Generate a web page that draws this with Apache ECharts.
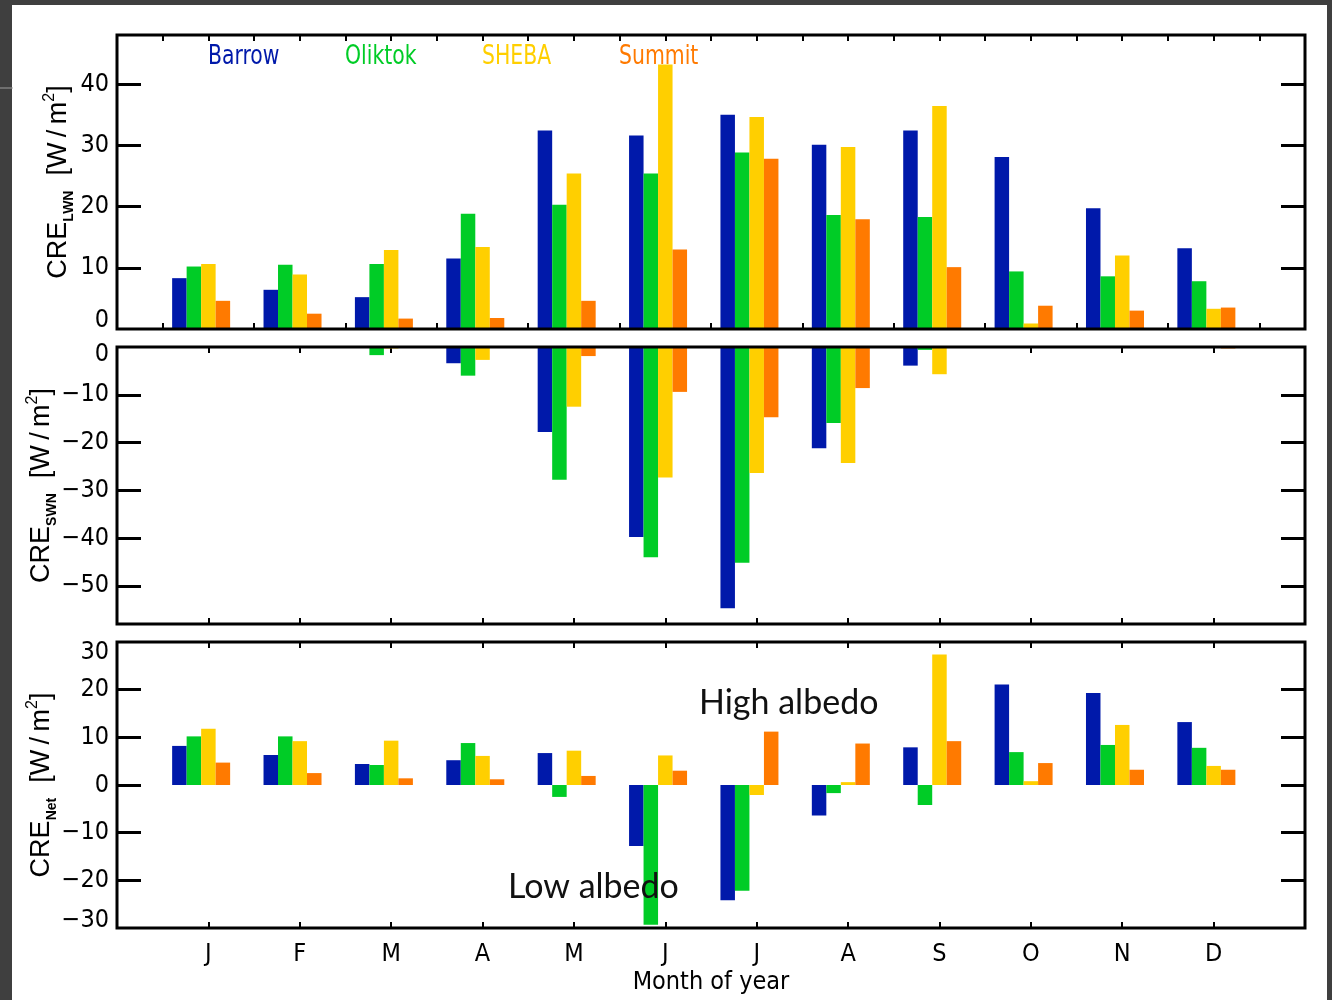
<!DOCTYPE html>
<html>
<head>
<meta charset="utf-8">
<script src="https://cdn.jsdelivr.net/npm/echarts@6/dist/echarts.min.js"></script>
<style>
html, body { margin: 0; padding: 0; background: #3f3f3f; }
#chart { width: 1332px; height: 1000px; }
</style>
</head>
<body>
<div id="chart"></div>
<script>
// Month labels and station names
const months = ['J', 'F', 'M', 'A', 'M', 'J', 'J', 'A', 'S', 'O', 'N', 'D'];
const stations = ['Barrow', 'Oliktok', 'SHEBA', 'Summit'];

// Longwave cloud radiative effect (W/m2)
const barrowLWN  = [8.3, 6.4, 5.2, 11.5, 32.4, 31.6, 35.0, 30.1, 32.4, 28.1, 19.7, 13.2];
const oliktokLWN = [10.2, 10.5, 10.6, 18.8, 20.3, 25.4, 28.8, 18.6, 18.3, 9.4, 8.6, 7.8];
const shebaLWN   = [10.6, 8.9, 12.9, 13.4, 25.4, 43.2, 34.6, 29.7, 36.4, 0.9, 12.0, 3.3];
const summitLWN  = [4.6, 2.5, 1.7, 1.8, 4.6, 13.0, 27.8, 17.9, 10.1, 3.8, 3.0, 3.5];

// Shortwave cloud radiative effect (W/m2)
const barrowSWN  = [0, 0, 0, -3.4, -17.8, -39.8, -54.7, -21.2, -3.9, 0, 0, 0];
const oliktokSWN = [0, 0, -1.7, -6.0, -27.8, -44.0, -45.2, -15.9, -0.6, 0, 0, 0];
const shebaSWN   = [0, 0, -0.3, -2.7, -12.5, -27.3, -26.4, -24.3, -5.7, 0, 0, 0];
const summitSWN  = [0, 0, 0, 0, -1.9, -9.4, -14.7, -8.6, 0, 0, 0, -0.3];

// Net cloud radiative effect (W/m2)
const barrowNet  = [8.2, 6.3, 4.4, 5.2, 6.7, -12.8, -24.2, -6.4, 7.9, 21.1, 19.3, 13.2];
const oliktokNet = [10.2, 10.2, 4.2, 8.8, -2.5, -29.3, -22.2, -1.7, -4.2, 6.9, 8.4, 7.8];
const shebaNet   = [11.8, 9.2, 9.3, 6.1, 7.2, 6.2, -2.1, 0.6, 27.4, 0.8, 12.6, 4.0];
const summitNet  = [4.7, 2.5, 1.4, 1.2, 1.9, 3.0, 11.2, 8.7, 9.2, 4.6, 3.2, 3.2];

// Axis tick values
const lwnTicks = [0, 10, 20, 30, 40];
const swnTicks = [0, -10, -20, -30, -40, -50];
const netTicks = [-30, -20, -10, 0, 10, 20, 30];

const colors = ['#0019AA', '#00CC26', '#FFCF00', '#FF7A00'];
const condensed = '"DejaVu Sans Condensed", "Liberation Sans Narrow", sans-serif';
const plain = '"Liberation Sans", Arial, sans-serif';

const panels = [
  { data: [barrowLWN, oliktokLWN, shebaLWN, summitLWN], ticks: lwnTicks, min: 0, max: 48,
    top: 35, height: 294, sub: 'LWN', nameGap: 41,
    edge: { 0: [0, 0, 18, 0] } },
  { data: [barrowSWN, oliktokSWN, shebaSWN, summitSWN], ticks: swnTicks, min: -58, max: 0,
    top: 347, height: 277, sub: 'SWN', nameGap: 58,
    edge: { 0: [14, 0, 0, 0] } },
  { data: [barrowNet, oliktokNet, shebaNet, summitNet], ticks: netTicks, min: -30, max: 30,
    top: 642, height: 286, sub: 'Net', nameGap: 58,
    edge: { 30: [20, 0, 0, 0], '-30': [0, 0, 16, 0] } }
];

const monthPos = months.map((m, i) => i + 1);
const halfPos = months.map((m, i) => i + 0.5).concat([12.5]);
const allHalf = [];
for (let k = 1; k <= 25; k++) allHalf.push(k / 2);

function fmtNum(v) {
  return v < 0 ? '\u2212' + Math.abs(v) : String(v);
}

const grid = [], xAxis = [], yAxis = [], series = [];

panels.forEach((p, pi) => {
  grid.push({ left: 117, right: 27, top: p.top, height: p.height, show: true,
    borderColor: '#000', borderWidth: 3, backgroundColor: 'transparent', z: 3 });

  const isLast = pi === panels.length - 1;
  const bottomTicks = pi === 0 ? halfPos : monthPos;
  const topTicks = pi === 0 ? allHalf : monthPos;

  // bottom x axis
  xAxis.push({
    type: 'value', gridIndex: pi, min: 0, max: 13, position: 'bottom',
    axisLine: { show: false, onZero: false }, splitLine: { show: false },
    axisTick: { show: true, inside: true, length: 6, customValues: bottomTicks,
      lineStyle: { color: '#000', width: 2 } },
    axisLabel: { show: isLast, customValues: monthPos, margin: 14,
      formatter: v => months[Math.round(v) - 1] || '',
      fontFamily: condensed, fontSize: 25, color: '#000' },
    name: isLast ? 'Month of year' : '', nameLocation: 'middle', nameGap: 42,
    nameMoveOverlap: false,
    nameTextStyle: { fontFamily: condensed, fontSize: 25, color: '#000' }
  });
  // top x axis (ticks only)
  xAxis.push({
    type: 'value', gridIndex: pi, min: 0, max: 13, position: 'top',
    axisLine: { show: false, onZero: false }, splitLine: { show: false },
    axisTick: { show: true, inside: true, length: 6, customValues: topTicks,
      lineStyle: { color: '#000', width: 2 } },
    axisLabel: { show: false }
  });

  const innerTicks = p.ticks.filter(v => v !== p.min && v !== p.max);
  const rich = {};
  Object.keys(p.edge).forEach((k, j) => {
    rich['e' + j] = { fontFamily: condensed, fontSize: 25, color: '#000', padding: p.edge[k] };
  });

  // left y axis with labels and title
  yAxis.push({
    type: 'value', gridIndex: pi, min: p.min, max: p.max, position: 'left',
    axisLine: { show: false, onZero: false }, splitLine: { show: false },
    axisTick: { show: true, inside: true, length: 24, customValues: innerTicks,
      lineStyle: { color: '#000', width: 3 } },
    axisLabel: {
      customValues: p.ticks, margin: 8, fontFamily: condensed, fontSize: 25, color: '#000',
      rich: rich,
      formatter: v => {
        const keys = Object.keys(p.edge);
        const j = keys.indexOf(String(v));
        return j >= 0 ? '{e' + j + '|' + fmtNum(v) + '}' : fmtNum(v);
      }
    },
    name: 'CRE{sub|' + p.sub + '}  [W\u2009/\u2009m{sup|2}]',
    nameLocation: 'middle', nameGap: p.nameGap, nameMoveOverlap: false,
    nameTextStyle: {
      fontFamily: plain, fontSize: 27, color: '#000', lineHeight: 34,
      rich: {
        sub: { fontFamily: plain, fontSize: 14, fontWeight: 'bold', color: '#000',
          lineHeight: 12, verticalAlign: 'bottom' },
        sup: { fontFamily: plain, fontSize: 16, color: '#000',
          lineHeight: 14, verticalAlign: 'top' }
      }
    }
  });
  // right y axis (ticks only)
  yAxis.push({
    type: 'value', gridIndex: pi, min: p.min, max: p.max, position: 'right',
    axisLine: { show: false, onZero: false }, splitLine: { show: false },
    axisTick: { show: true, inside: true, length: 24, customValues: innerTicks,
      lineStyle: { color: '#000', width: 3 } },
    axisLabel: { show: false }
  });

  p.data.forEach((vals, si) => {
    series.push({
      type: 'bar', name: stations[si], xAxisIndex: pi * 2, yAxisIndex: pi * 2,
      data: vals.map((v, i) => [i + 1, v]),
      barWidth: 14.5, barGap: '0%', itemStyle: { color: colors[si] },
      silent: true, animation: false
    });
  });
  // empty slot after the four stations in each month group
  series.push({
    type: 'bar', name: 'slot', xAxisIndex: pi * 2, yAxisIndex: pi * 2,
    data: [], barWidth: 14.5, barGap: '0%', silent: true, animation: false
  });
});

const legendX = [208, 345, 482, 619];
const graphic = [
  { type: 'rect', z: -10, shape: { x: 12, y: 5, width: 1315, height: 995 }, style: { fill: '#ffffff' } },
  { type: 'line', z: -9, shape: { x1: 0, y1: 88, x2: 13, y2: 88 }, style: { stroke: '#a0a0a0', lineWidth: 1 } }
];
stations.forEach((s, i) => {
  graphic.push({ type: 'text', z: 100, x: legendX[i], y: 57, scaleX: 0.84,
    style: { text: s, fill: colors[i], fontFamily: condensed, fontSize: 27,
      align: 'left', verticalAlign: 'middle' } });
});
graphic.push({ type: 'text', z: 100, x: 699, y: 703,
  style: { text: 'High albedo', fill: '#111', fontFamily: 'Lato, "Open Sans", sans-serif', fontSize: 34,
    align: 'left', verticalAlign: 'middle' } });
graphic.push({ type: 'text', z: 100, x: 508, y: 887,
  style: { text: 'Low albedo', fill: '#111', fontFamily: 'Lato, "Open Sans", sans-serif', fontSize: 34,
    align: 'left', verticalAlign: 'middle' } });

const chart = echarts.init(document.getElementById('chart'), null, { renderer: 'canvas' });
chart.setOption({
  backgroundColor: '#3f3f3f',
  animation: false,
  grid, xAxis, yAxis, series, graphic
});
</script>
</body>
</html>
